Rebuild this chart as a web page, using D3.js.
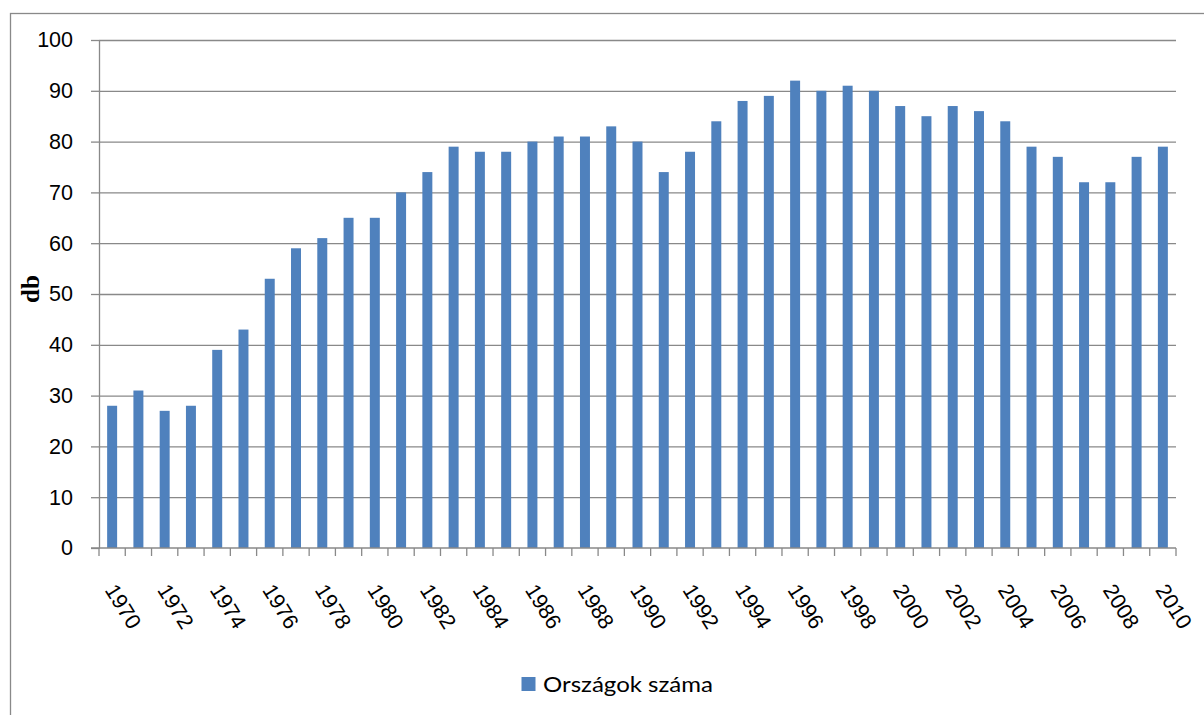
<!DOCTYPE html>
<html>
  <head>
    <meta charset="utf-8">
    <title>Országok száma</title>
    <style>
      body { margin: 0; background-color: white; }
      svg { display: block; }
    </style>
    <script src="https://d3js.org/d3.v7.min.js"></script>
  </head>
  <body>
    <svg></svg>
    <script>
      // data
      var years = d3.range(1970, 2011);
      var counts = [28, 31, 27, 28, 39, 43, 53, 59, 61, 65, 65, 70, 74, 79, 78, 78, 80, 81, 81, 83,
                    80, 74, 78, 84, 88, 89, 92, 90, 91, 90, 87, 85, 87, 86, 84, 79, 77, 72, 72, 77, 79];
      var yTicks = [0, 10, 20, 30, 40, 50, 60, 70, 80, 90, 100];
      var xLabels = years.filter(function(d) { return d % 2 === 0; });
      var seriesName = 'Országok száma';
      var yTitle = 'db';

      var width = 1204, height = 715;
      // plot box (don't call it "top", window.top is read-only)
      var plotLeft = 99, plotRight = 1176, plotTop = 40, plotBottom = 548;
      var gray = '#898989';
      var barColor = '#4F81BD';

      var svg = d3.select('svg').attr('width', width).attr('height', height);

      // chart area border (cut off at right and bottom)
      svg.append('rect')
        .attr('x', 10.5).attr('y', 13.5)
        .attr('width', 1400).attr('height', 900)
        .attr('fill', 'none').attr('stroke', gray).attr('stroke-width', 1.3);

      var x = d3.scaleBand().domain(years).range([plotLeft, plotRight])
        .paddingInner(0.62).paddingOuter(0.31);
      var y = d3.scaleLinear().domain([0, 100]).range([plotBottom, plotTop]);

      // gridlines
      svg.append('g')
        .attr('transform', 'translate(' + plotLeft + ',0)')
        .call(d3.axisLeft(y).tickValues(yTicks.slice(1)).tickSize(-(plotRight - plotLeft)).tickFormat(''))
        .call(function(g) {
          g.select('.domain').remove();
          g.selectAll('line').attr('stroke', gray).attr('stroke-width', 1.3);
        });

      // bars
      svg.append('g').selectAll('rect')
        .data(counts)
        .enter()
        .append('rect')
        .attr('x', function(d, i) { return x(years[i]); })
        .attr('y', function(d) { return y(d); })
        .attr('width', x.bandwidth())
        .attr('height', function(d) { return y(0) - y(d); })
        .attr('fill', barColor);

      // y axis
      svg.append('g')
        .attr('transform', 'translate(' + plotLeft + ',0)')
        .call(d3.axisLeft(y).tickValues(yTicks).tickSize(8).tickPadding(18).tickSizeOuter(0))
        .call(function(g) {
          g.select('.domain').attr('stroke', gray).attr('stroke-width', 1.3);
          g.selectAll('line').attr('stroke', gray).attr('stroke-width', 1.3);
          g.selectAll('text')
            .attr('fill', '#000')
            .style('font-family', '"Liberation Sans", Arial, sans-serif')
            .style('font-size', '21.5px');
        });

      // x axis line and tick marks at category boundaries
      var xAxis = svg.append('g').attr('transform', 'translate(0,' + plotBottom + ')');
      xAxis.append('line')
        .attr('x1', plotLeft - 8).attr('x2', plotRight)
        .attr('stroke', gray).attr('stroke-width', 1.3);
      xAxis.selectAll('.tick-mark')
        .data(d3.range(years.length + 1))
        .enter()
        .append('line')
        .attr('class', 'tick-mark')
        .attr('x1', function(i) { return plotLeft + i * x.step(); })
        .attr('x2', function(i) { return plotLeft + i * x.step(); })
        .attr('y1', 0).attr('y2', 8)
        .attr('stroke', gray).attr('stroke-width', 1.3);

      // rotated year labels
      svg.append('g')
        .attr('transform', 'translate(0,' + plotBottom + ')')
        .call(d3.axisBottom(x).tickValues(xLabels).tickSize(0))
        .call(function(g) {
          g.select('.domain').remove();
          g.selectAll('text')
            .attr('fill', '#000')
            .attr('text-anchor', 'start')
            .attr('x', -8).attr('y', 42).attr('dy', 0)
            .attr('transform', 'rotate(58,-8,42)')
            .style('font-family', '"Liberation Sans", Arial, sans-serif')
            .style('font-size', '21.5px');
        });

      // y axis title
      svg.append('text')
        .attr('transform', 'translate(39,' + ((plotTop + plotBottom) / 2 - 5) + ') rotate(-90)')
        .attr('text-anchor', 'middle')
        .style('font-family', '"Liberation Serif", "Times New Roman", serif')
        .style('font-weight', 'bold')
        .style('font-size', '25px')
        .text(yTitle);

      // legend
      var legend = svg.append('g');
      legend.append('rect')
        .attr('x', 521.5).attr('y', 677)
        .attr('width', 14).attr('height', 14)
        .attr('fill', barColor);
      legend.append('text')
        .attr('x', 543).attr('y', 692)
        .attr('textLength', 170).attr('lengthAdjust', 'spacingAndGlyphs')
        .style('font-family', 'Lato, "Open Sans", sans-serif')
        .style('font-size', '21px')
        .text(seriesName);
    </script>
  </body>
</html>
